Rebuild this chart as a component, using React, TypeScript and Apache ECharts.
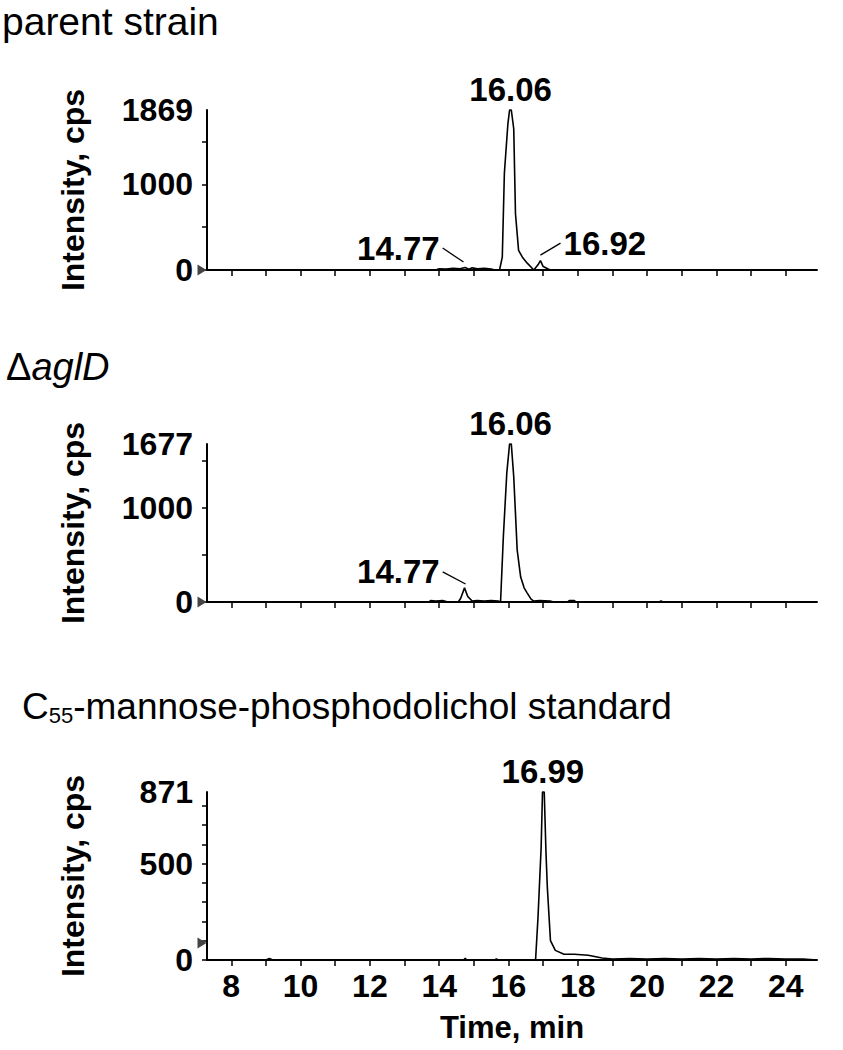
import React, { useEffect, useRef } from "react";
import * as echarts from "echarts";

const X_MIN = 7.3;
const X_MAX = 24.9;
const TIME_TICKS = [8, 9, 10, 11, 12, 13, 14, 15, 16, 17, 18, 19, 20, 21, 22, 23, 24];
const TIME_LABELS = [8, 10, 12, 14, 16, 18, 20, 22, 24];

const PANEL_TITLES = ["parent strain", "ΔaglD", "C55-mannose-phosphodolichol standard"];

// parent strain trace [time (min), intensity (cps)]
const parentTrace: [number, number][] = [
  [7.3, 0], [13.9, 0], [14.0, 15], [14.2, 10], [14.4, 20], [14.6, 15], [14.75, 30], [14.85, 10],
  [14.95, 25], [15.1, 15], [15.3, 20], [15.5, 10], [15.6, 0], [15.74, 0], [15.82, 150],
  [15.88, 1130], [15.98, 1700], [16.03, 1869], [16.08, 1869], [16.15, 1650], [16.2, 660],
  [16.29, 230], [16.4, 150], [16.54, 80], [16.73, 0], [16.85, 60], [16.92, 110], [17.0, 40],
  [17.1, 20], [17.2, 0], [24.9, 0],
];
const parentYMax = 1869;
const parentYLabels = [0, 1000, 1869];
const parentYTicks = [0, 500, 1000, 1500];

// ΔaglD trace
const aglDTrace: [number, number][] = [
  [7.3, 0], [13.7, 0], [13.75, 15], [13.9, 10], [14.1, 15], [14.25, 0], [14.55, 0], [14.62, 40],
  [14.73, 150], [14.82, 60], [14.95, 10], [15.1, 15], [15.3, 10], [15.5, 15], [15.7, 10],
  [15.77, 0], [15.85, 690], [15.95, 1370], [16.03, 1677], [16.08, 1677], [16.15, 1330],
  [16.25, 550], [16.35, 265], [16.45, 150], [16.54, 95], [16.65, 30], [16.73, 10], [16.9, 15],
  [17.2, 10], [17.3, 0], [17.7, 0], [17.75, 15], [17.9, 15], [17.95, 0], [20.35, 0], [20.4, 12],
  [20.45, 0], [24.9, 0],
];
const aglDYMax = 1677;
const aglDYLabels = [0, 1000, 1677];
const aglDYTicks = [0, 500, 1000, 1500];

// C55-mannose-phosphodolichol standard trace
const standardTrace: [number, number][] = [
  [7.3, 0], [9.0, 0], [9.1, 8], [9.2, 0], [14.7, 0], [14.75, 8], [14.8, 0], [15.6, 0],
  [15.65, 6], [15.7, 0], [16.78, 0], [16.85, 220], [16.94, 580], [16.98, 871], [17.03, 871],
  [17.08, 560], [17.12, 375], [17.21, 100], [17.35, 50], [17.6, 30], [17.9, 30], [18.3, 25],
  [18.7, 10], [19.0, 5], [19.5, 8], [20.0, 5], [20.5, 8], [21.0, 5], [21.5, 8], [22.0, 5],
  [22.5, 8], [23.0, 5], [23.5, 8], [24.0, 5], [24.5, 5], [24.9, 0],
];
const standardYMax = 871;
const standardYLabels = [0, 500, 871];
const standardYTicks = [0, 100, 200, 300, 400, 500, 600, 700, 800];

// peak annotations: [time, intensity] anchor, label text
const parentPeaks = [
  { coord: [16.06, 1869], text: "16.06", pos: "top" },
  { coord: [14.1, 256], text: "14.77", pos: "left" },
  { coord: [17.5, 314], text: "16.92", pos: "right" },
];
const parentLeaders = [
  [[14.1, 256], [14.7, 93]],
  [[17.5, 314], [16.92, 174]],
];
const aglDPeaks = [
  { coord: [16.06, 1677], text: "16.06", pos: "top" },
  { coord: [14.1, 319], text: "14.77", pos: "left" },
];
const aglDLeaders = [[[14.76, 191], [14.1, 319]]];
const standardPeaks = [{ coord: [16.99, 871], text: "16.99", pos: "top" }];

const FONT = "Liberation Sans, Arial, Helvetica, sans-serif";

export default function App() {
  const ref = useRef<HTMLDivElement>(null);
  useEffect(() => {
    document.body.style.margin = "0";
    const chart = echarts.init(ref.current!, null, { renderer: "svg" });

    const grids = [
      { left: 207, right: 26, top: 110, height: 160 },
      { left: 207, right: 26, top: 444, height: 158 },
      { left: 207, right: 26, top: 792, height: 168 },
    ];

    const xAxis = (gridIndex: number, showLabels: boolean) => ({
      type: "value",
      gridIndex,
      min: X_MIN,
      max: X_MAX,
      axisLine: { show: true, onZero: false, lineStyle: { color: "#000", width: 2 } },
      axisTick: { show: true, customValues: TIME_TICKS, length: 6, lineStyle: { color: "#000", width: 1.5 } },
      axisLabel: {
        show: showLabels,
        customValues: TIME_LABELS,
        formatter: (v: number) => String(v),
        fontSize: 32,
        fontWeight: "bold",
        color: "#000",
        fontFamily: FONT,
        margin: 10,
      },
      splitLine: { show: false },
      name: showLabels ? "Time, min" : "",
      nameLocation: "middle",
      nameGap: 52,
      nameTextStyle: { fontSize: 31, fontWeight: "bold", color: "#000", fontFamily: FONT },
    });

    const yAxis = (gridIndex: number, max: number, labels: number[], ticks: number[]) => ({
      type: "value",
      gridIndex,
      min: 0,
      max,
      axisLine: { show: true, lineStyle: { color: "#000", width: 2 } },
      axisTick: { show: true, customValues: ticks, length: 5, lineStyle: { color: "#000", width: 1.5 } },
      axisLabel: {
        customValues: labels,
        formatter: (v: number) => String(v),
        fontSize: 32,
        fontWeight: "bold",
        color: "#000",
        fontFamily: FONT,
        margin: 14,
      },
      splitLine: { show: false },
      name: "Intensity, cps",
      nameLocation: "middle",
      nameRotate: 90,
      nameGap: 118,
      nameTextStyle: { fontSize: 32, fontWeight: "bold", color: "#000", fontFamily: FONT },
    });

    const peakPoints = (peaks: any[]) =>
      peaks.map((p) => ({
        coord: p.coord,
        symbol: "circle",
        symbolSize: 0,
        label: {
          show: true,
          formatter: p.text,
          position: p.pos,
          distance: p.pos === "top" ? 4 : 3,
          fontSize: 33,
          fontWeight: "bold",
          color: "#000",
          fontFamily: FONT,
        },
      }));

    const zeroMarker = (yOffset: number) => ({
      coord: [X_MIN, 0],
      symbol: "triangle",
      symbolSize: [11, 9],
      symbolRotate: -90,
      symbolOffset: [-5, yOffset],
      itemStyle: { color: "#444" },
      label: { show: false },
    });

    const series = (idx: number, data: [number, number][], peaks: any[], leaders: any[], zOff: number) => ({
      type: "line",
      xAxisIndex: idx,
      yAxisIndex: idx,
      data,
      symbol: "none",
      lineStyle: { color: "#000", width: 1.6 },
      clip: false,
      markPoint: {
        silent: true,
        data: [...peakPoints(peaks), zeroMarker(zOff)],
      },
      markLine: leaders.length
        ? {
            silent: true,
            symbol: "none",
            label: { show: false },
            lineStyle: { color: "#000", width: 1.3, type: "solid" },
            data: leaders.map((l: any) => [{ coord: l[0] }, { coord: l[1] }]),
          }
        : undefined,
    });

    const titleStyle = { fontSize: 39, fontWeight: "normal", color: "#000", fontFamily: FONT };

    chart.setOption({
      animation: false,
      title: [
        { text: PANEL_TITLES[0], left: 2, top: 2, padding: 0, textStyle: titleStyle },
        {
          text: "{n|Δ}{i|aglD}",
          left: 6,
          top: 348,
          padding: 0,
          textStyle: {
            ...titleStyle,
            rich: {
              n: { fontSize: 38, color: "#000", fontFamily: FONT },
              i: { fontSize: 38, color: "#000", fontStyle: "italic", fontFamily: FONT },
            },
          },
        },
        {
          text: "{n|C}{s|55}{n|-mannose-phosphodolichol standard}",
          left: 22,
          top: 686,
          padding: 0,
          textStyle: {
            ...titleStyle,
            rich: {
              n: { fontSize: 37, color: "#000", fontFamily: FONT },
              s: { fontSize: 22, color: "#000", fontFamily: FONT, verticalAlign: "bottom", padding: [18, 0, 0, 0] },
            },
          },
        },
      ],
      grid: grids,
      xAxis: [xAxis(0, false), xAxis(1, false), xAxis(2, true)],
      yAxis: [
        yAxis(0, parentYMax, parentYLabels, parentYTicks),
        yAxis(1, aglDYMax, aglDYLabels, aglDYTicks),
        yAxis(2, standardYMax, standardYLabels, standardYTicks),
      ],
      series: [
        series(0, parentTrace, parentPeaks, parentLeaders, 0),
        series(1, aglDTrace, aglDPeaks, aglDLeaders, 0),
        series(2, standardTrace, standardPeaks, [], -17),
      ],
    });
    return () => chart.dispose();
  }, []);
  return <div ref={ref} style={{ width: 843, height: 1050 }} />;
}
